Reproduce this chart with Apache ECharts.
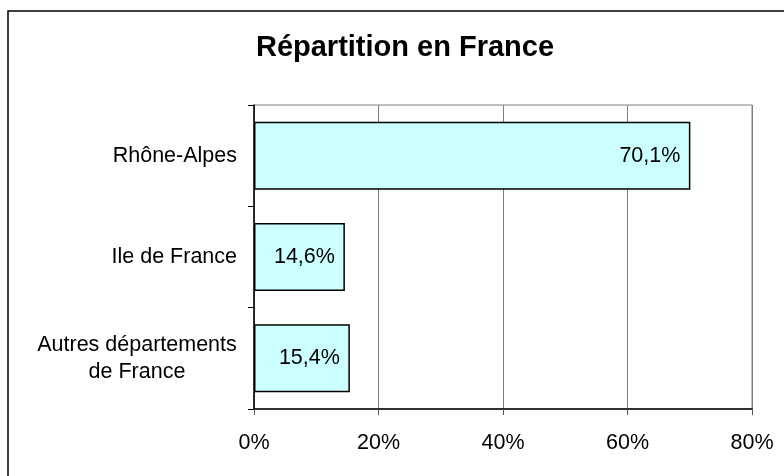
<!DOCTYPE html>
<html>
<head>
<meta charset="utf-8">
<script src="https://cdn.jsdelivr.net/npm/echarts@6/dist/echarts.min.js"></script>
<style>
  html, body { margin: 0; padding: 0; background: #fff; }
  #chart { width: 784px; height: 476px; }
</style>
</head>
<body>
<div id="chart"></div>
<script>
const categories = ['Rhône-Alpes', 'Ile de France', 'Autres départements\nde France']
const values = [70.1, 14.6, 15.4]
const xTicks = [0, 20, 40, 60, 80]

const font = 'Liberation Sans, Arial, sans-serif'
const fs = 21.5

// width of the longest line, so the two-line label stays centred on itself
const ctx = document.createElement('canvas').getContext('2d')
ctx.font = fs + 'px ' + font
const longest = Math.ceil(ctx.measureText('Autres départements').width)

const mycharts = echarts.init(document.getElementById('chart'))
mycharts.setOption({
  animation: false,
  title: {
    text: 'Répartition en France',
    left: 405,
    top: 33,
    padding: 0,
    textAlign: 'center',
    textStyle: { color: '#000', fontSize: 29, fontWeight: 'bold', fontFamily: font },
  },
  graphic: [
    {
      type: 'rect',
      shape: { x: 8, y: 11, width: 820, height: 520 },
      style: { fill: 'none', stroke: '#000', lineWidth: 1.5 },
      z: -1,
    },
  ],
  grid: {
    left: 254,
    right: 32,
    top: 105,
    bottom: 67,
    show: true,
    borderColor: '#808080',
    borderWidth: 1,
  },
  xAxis: {
    type: 'value',
    min: xTicks[0],
    max: xTicks[xTicks.length - 1],
    interval: 20,
    axisLine: { show: true, lineStyle: { color: '#000', width: 1.5 } },
    axisTick: { show: true, length: 6, lineStyle: { color: '#555' } },
    splitLine: { show: true, lineStyle: { color: '#808080', width: 1 } },
    axisLabel: {
      color: '#000',
      fontSize: fs,
      fontFamily: font,
      margin: 23,
      formatter: '{value}%',
    },
  },
  yAxis: {
    type: 'category',
    inverse: true,
    data: categories,
    axisLine: { show: true, lineStyle: { color: '#000', width: 1.5 } },
    axisTick: { show: true, length: 6, alignWithLabel: false, lineStyle: { color: '#000' } },
    axisLabel: {
      color: '#000',
      fontSize: fs,
      fontFamily: font,
      margin: 17,
      lineHeight: 27,
      formatter: (v) => {
        const parts = v.split('\n')
        if (parts.length === 1) return v
        return parts.map((p) => '{c|' + p + '}').join('\n')
      },
      rich: {
        c: { width: longest, align: 'center', fontSize: fs, fontFamily: font, color: '#000', lineHeight: 27 },
      },
    },
  },
  series: [
    {
      type: 'bar',
      data: values,
      barWidth: 68,
      itemStyle: { color: '#ccffff', borderColor: '#000', borderWidth: 1.5 },
      label: {
        show: true,
        position: 'insideRight',
        distance: 10,
        color: '#000',
        fontSize: fs,
        fontFamily: font,
        formatter: (p) => p.value.toFixed(1).replace('.', ',') + '%',
      },
    },
  ],
})
</script>
</body>
</html>
